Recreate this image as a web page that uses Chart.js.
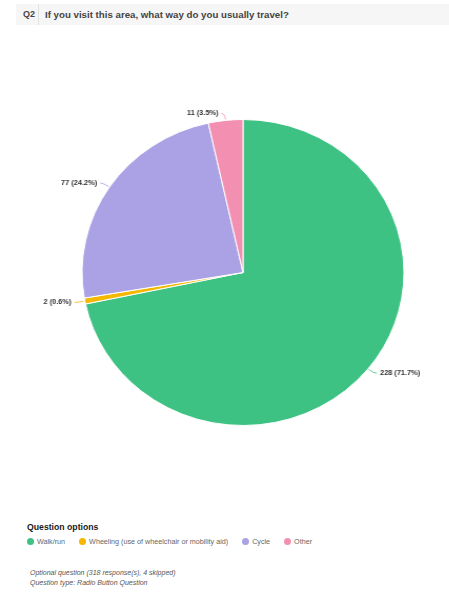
<!DOCTYPE html>
<html>
<head>
<meta charset="utf-8">
<script src="https://cdn.jsdelivr.net/npm/chart.js@4.4.1/dist/chart.umd.min.js"></script>
<style>
  html, body { margin: 0; padding: 0; background: #fff; }
  body { width: 449px; height: 602px; position: relative; overflow: hidden; font-family: "Liberation Sans", Arial, sans-serif; }
  .qbar { position: absolute; left: 16px; top: 4px; width: 433px; height: 21px; background: #f6f6f6; display: flex; align-items: center; }
  .qnum { width: 23px; padding-left: 7px; box-sizing: border-box; font-weight: bold; font-size: 9px; color: #444; height: 100%; line-height: 21px; border-right: 1px solid #e2e2e2; }
  .qtext { padding-left: 6px; font-weight: bold; font-size: 9.7px; color: #444; }
  #chartWrap { position: absolute; left: 33px; top: 100px; width: 420px; height: 345px; transform: scaleX(1.052); transform-origin: 50% 50%; }
  .opts { position: absolute; left: 27px; top: 522px; font-weight: bold; font-size: 8.7px; color: #1a1a1a; }
  .legend { position: absolute; left: 27px; top: 537px; display: flex; align-items: center; font-size: 7.2px; color: #666; }
  .legend .item { display: flex; align-items: center; margin-right: 14px; }
  .legend .dot { width: 7px; height: 7px; border-radius: 50%; margin-right: 3px; }
  .foot { position: absolute; left: 30px; top: 568px; font-style: italic; font-size: 7px; color: #555; line-height: 9.5px; }
</style>
</head>
<body>
<div class="qbar"><div class="qnum">Q2</div><div class="qtext">If you visit this area, what way do you usually travel?</div></div>
<div id="chartWrap"><canvas id="chart"></canvas></div>
<div class="opts">Question options</div>
<div class="legend" id="legend"></div>
<div class="foot">Optional question (318 response(s), 4 skipped)<br>Question type: Radio Button Question</div>
<script>
const labels = ['Walk/run', 'Wheeling (use of wheelchair or mobility aid)', 'Cycle', 'Other'];
const counts = [228, 2, 77, 11];
const percents = ['71.7', '0.6', '24.2', '3.5'];
const sliceColors = ['#3ec283', '#f5b800', '#aaa2e4', '#f390b2'];

// Legend (html, built from the same arrays)
const legendEl = document.getElementById('legend');
labels.forEach((l, i) => {
  const item = document.createElement('div');
  item.className = 'item';
  item.innerHTML = `<span class="dot" style="background:${sliceColors[i]}"></span>${l}`;
  legendEl.appendChild(item);
});

// Outside labels with small connector lines
const outsideLabels = {
  id: 'outsideLabels',
  afterDatasetsDraw(chart) {
    const ctx = chart.ctx;
    const meta = chart.getDatasetMeta(0);
    ctx.save();
    ctx.font = 'bold 7px "Liberation Sans", Arial, sans-serif';
    ctx.textBaseline = 'middle';
    meta.data.forEach((arc, i) => {
      const mid = (arc.startAngle + arc.endAngle) / 2;
      const r = arc.outerRadius;
      const cos = Math.cos(mid), sin = Math.sin(mid);
      const x0 = arc.x + cos * (r + 1), y0 = arc.y + sin * (r + 1);
      const x1 = arc.x + cos * (r + 7), y1 = arc.y + sin * (r + 7);
      const dir = cos >= 0 ? 1 : -1;
      const x2 = x1 + dir * 3;
      ctx.strokeStyle = sliceColors[i];
      ctx.lineWidth = 0.8;
      ctx.beginPath();
      ctx.moveTo(x0, y0);
      ctx.quadraticCurveTo(x1, y1, x2, y1);
      ctx.stroke();
      ctx.fillStyle = '#333';
      ctx.textAlign = dir > 0 ? 'left' : 'right';
      ctx.fillText(`${counts[i]} (${percents[i]}%)`, x2 + dir * 3, y1);
    });
    ctx.restore();
  }
};

new Chart(document.getElementById('chart'), {
  type: 'pie',
  data: {
    labels,
    datasets: [{
      data: counts,
      backgroundColor: sliceColors,
      borderColor: '#ffffff',
      borderWidth: 1,
    }]
  },
  options: {
    responsive: true,
    maintainAspectRatio: false,
    animation: false,
    radius: 153,
    layout: { padding: 0 },
    plugins: {
      legend: { display: false },
      tooltip: { enabled: false }
    }
  },
  plugins: [outsideLabels]
});
</script>
</body>
</html>
